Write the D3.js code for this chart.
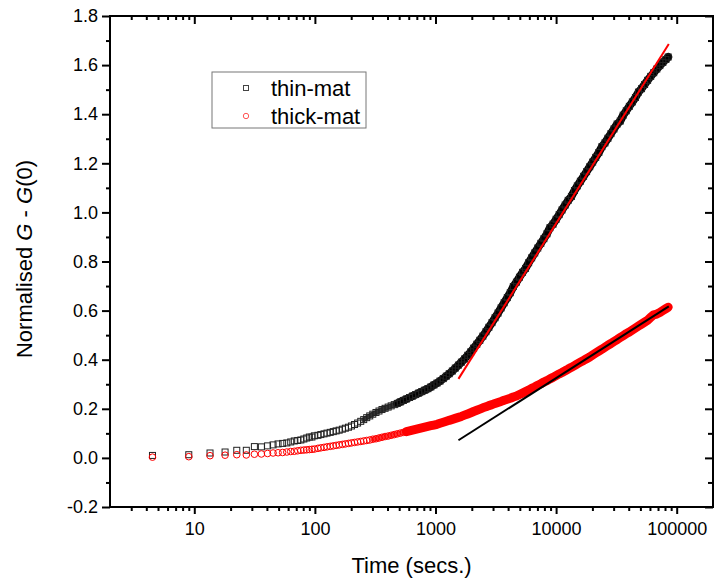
<!DOCTYPE html>
<html>
<head>
<meta charset="utf-8">
<script src="https://cdn.jsdelivr.net/npm/d3@7"></script>
<style>
body { margin: 0; background: #fff; }
svg { font-family: "Liberation Sans", Arial, sans-serif; }
</style>
</head>
<body>
<div id="chart"></div>
<script>
// sample times (secs.), shared by both series
var times = [4.5, 9, 13.5, 18, 22.5, 27, 31.5, 36, 40.5, 45, 49.5, 54, 58.5, 63, 67.5,
  72, 76.5, 81, 85.5, 90, 94.5, 99,
  106, 112, 119, 126, 134, 142, 150, 159, 169, 179, 190, 201, 213, 226, 240, 254, 269, 285,
  302, 321, 340, 360, 382, 405, 429, 455, 482, 511, 542, 574, 609, 645, 684, 725, 769, 815,
  864, 915, 970, 1030, 1090, 1160, 1230, 1300, 1380, 1460, 1550, 1640, 1740, 1850, 1960,
  2070, 2200, 2330, 2470, 2620, 2770, 2940, 3120, 3300, 3500, 3710, 3940, 4170, 4420, 4690,
  4970, 5270, 5580, 5920, 6270, 6650, 7050, 7470, 7920, 8400, 8900, 9430, 10000, 10600,
  11200, 11900, 12600, 13400, 14200, 15000, 15900, 16900, 17900, 19000, 20100, 21300, 22600,
  24000, 25400, 26900, 28500, 30200, 32100, 34000, 36000, 38200, 40500, 42900, 45500, 48200,
  51100, 54200, 57400, 60900, 64500, 68400, 72500, 76800, 81400, 85000];

var thinMat = [0.010, 0.013, 0.020, 0.024, 0.031, 0.031, 0.046, 0.045, 0.049, 0.053, 0.057,
  0.059, 0.061, 0.065, 0.069, 0.071, 0.073, 0.077, 0.081, 0.085, 0.085, 0.090,
  0.092, 0.095, 0.098, 0.101, 0.104, 0.107, 0.110, 0.113, 0.117, 0.121, 0.125, 0.130, 0.136,
  0.142, 0.149, 0.156, 0.164, 0.171, 0.178, 0.185, 0.191, 0.197, 0.202, 0.207, 0.212, 0.217,
  0.222, 0.228, 0.234, 0.240, 0.246, 0.252, 0.258, 0.264, 0.270, 0.276, 0.282, 0.289, 0.297,
  0.305, 0.313, 0.323, 0.333, 0.343, 0.354, 0.366, 0.378, 0.390, 0.403, 0.418, 0.432, 0.447,
  0.463, 0.479, 0.496, 0.514, 0.532, 0.551, 0.571, 0.590, 0.611, 0.632, 0.653, 0.673, 0.698,
  0.716, 0.736, 0.756, 0.772, 0.795, 0.815, 0.835, 0.855, 0.874, 0.893, 0.913, 0.938, 0.952,
  0.972, 0.991, 1.010, 1.030, 1.049, 1.065, 1.089, 1.108, 1.127, 1.147, 1.166, 1.186, 1.205,
  1.224, 1.244, 1.268, 1.283, 1.302, 1.321, 1.340, 1.360, 1.372, 1.396, 1.414, 1.432, 1.450,
  1.468, 1.490, 1.504, 1.521, 1.538, 1.554, 1.569, 1.584, 1.598, 1.611, 1.623, 1.633];

var thickMat = [0.003, 0.005, 0.009, 0.011, 0.013, 0.012, 0.015, 0.016, 0.018, 0.020, 0.021,
  0.022, 0.024, 0.026, 0.027, 0.029, 0.031, 0.032, 0.033, 0.034, 0.035, 0.036,
  0.039, 0.041, 0.043, 0.045, 0.047, 0.049, 0.051, 0.053, 0.055, 0.057, 0.059, 0.061, 0.063,
  0.065, 0.067, 0.069, 0.071, 0.073, 0.076, 0.078, 0.081, 0.084, 0.087, 0.089, 0.092, 0.095,
  0.098, 0.101, 0.104, 0.107, 0.110, 0.113, 0.116, 0.119, 0.122, 0.125, 0.128, 0.131, 0.134,
  0.137, 0.141, 0.145, 0.149, 0.153, 0.157, 0.161, 0.165, 0.169, 0.174, 0.179, 0.184, 0.189,
  0.194, 0.199, 0.204, 0.208, 0.213, 0.217, 0.222, 0.226, 0.230, 0.235, 0.239, 0.243, 0.248,
  0.252, 0.258, 0.264, 0.270, 0.276, 0.283, 0.289, 0.296, 0.302, 0.309, 0.315, 0.322, 0.328,
  0.335, 0.342, 0.348, 0.355, 0.362, 0.369, 0.376, 0.383, 0.390, 0.397, 0.404, 0.411, 0.419,
  0.427, 0.435, 0.443, 0.451, 0.459, 0.466, 0.474, 0.482, 0.490, 0.498, 0.506, 0.513, 0.521,
  0.529, 0.537, 0.545, 0.553, 0.561, 0.573, 0.583, 0.586, 0.592, 0.600, 0.608, 0.614];

// straight fits drawn over each series
var fitTimes = [1550, 86000];
var thinFit = [0.322, 1.686];
var thickFit = [0.072, 0.617];

var xTicks = [10, 100, 1000, 10000, 100000];
var yTicks = [-0.2, 0.0, 0.2, 0.4, 0.6, 0.8, 1.0, 1.2, 1.4, 1.6, 1.8];
var yMinor = [-0.1, 0.1, 0.3, 0.5, 0.7, 0.9, 1.1, 1.3, 1.5, 1.7];
var seriesNames = ["thin-mat", "thick-mat"];

var width = 715, height = 585;
var pLeft = 110, pRight = 713, pTop = 16, pBottom = 507;

var x = d3.scaleLog().domain([2, 200000]).range([pLeft, pRight]);
var y = d3.scaleLinear().domain([-0.2, 1.8]).range([pBottom, pTop]);

var xMinor = [];
[1, 10, 100, 1000, 10000, 100000].forEach(function(d) {
  for (var k = 2; k <= 9; k++) {
    var v = d * k;
    if (v > 2 && v < 200000) xMinor.push(v);
  }
});

var svg = d3.select("#chart").append("svg")
    .attr("width", width)
    .attr("height", height);

var thin = times.map(function(t, i) { return {t: t, v: thinMat[i]}; });
var thick = times.map(function(t, i) { return {t: t, v: thickMat[i]}; });

var plot = svg.append("g");

// the dense part of each series is a band of overlapping markers:
// draw it as a thick line under the markers
var band = d3.line()
    .x(function(d) { return x(d.t); })
    .y(function(d) { return y(d.v); });

function drawBand(data, from, colour, w) {
  plot.append("path")
      .datum(data.filter(function(d) { return d.t >= from; }))
      .attr("d", band)
      .style("fill", "none")
      .style("stroke", colour)
      .style("stroke-width", w)
      .style("stroke-linejoin", "round")
      .style("stroke-linecap", "round");
}

drawBand(thin, 250, "#333", 5);
drawBand(thin, 480, "#000", 8);

plot.selectAll(".sq").data(thin).enter()
    .append("rect")
    .attr("class", "sq")
    .attr("x", function(d) { return x(d.t) - 3; })
    .attr("y", function(d) { return y(d.v) - 3; })
    .attr("width", 6).attr("height", 6)
    .style("fill", "none")
    .style("stroke", "#222")
    .style("stroke-width", 1);

drawBand(thick, 300, "#f33", 5);
drawBand(thick, 560, "#f00", 9);

plot.selectAll(".ci").data(thick).enter()
    .append("circle")
    .attr("class", "ci")
    .attr("cx", function(d) { return x(d.t); })
    .attr("cy", function(d) { return y(d.v); })
    .attr("r", 3.3)
    .style("fill", "none")
    .style("stroke", "#f00")
    .style("stroke-width", 1);

// fit lines
plot.append("line")
    .attr("x1", x(fitTimes[0])).attr("y1", y(thinFit[0]))
    .attr("x2", x(fitTimes[1])).attr("y2", y(thinFit[1]))
    .style("stroke", "#f00")
    .style("stroke-width", 2);

plot.append("line")
    .attr("x1", x(fitTimes[0])).attr("y1", y(thickFit[0]))
    .attr("x2", x(fitTimes[1])).attr("y2", y(thickFit[1]))
    .style("stroke", "#000")
    .style("stroke-width", 2);

// axes
function styleAxis(g) {
  g.select(".domain").remove();
  g.selectAll("line").style("stroke", "#000").style("stroke-width", 2);
  g.selectAll("text")
    .style("font-family", "'Liberation Sans', Arial, sans-serif")
    .style("font-size", "18px")
    .style("fill", "#000");
}

svg.append("g")
    .attr("transform", "translate(0," + pBottom + ")")
    .call(d3.axisBottom(x).tickValues(xTicks).tickSize(7).tickPadding(8)
      .tickFormat(function(d) { return String(d); }))
    .call(styleAxis);
svg.append("g")
    .attr("transform", "translate(0," + pBottom + ")")
    .call(d3.axisBottom(x).tickValues(xMinor).tickSize(4).tickFormat(""))
    .call(styleAxis);

svg.append("g")
    .attr("transform", "translate(" + pLeft + ",0)")
    .call(d3.axisLeft(y).tickValues(yTicks).tickSize(8).tickPadding(4)
      .tickFormat(function(d) { return d.toFixed(1); }))
    .call(styleAxis);
svg.append("g")
    .attr("transform", "translate(" + pLeft + ",0)")
    .call(d3.axisLeft(y).tickValues(yMinor).tickSize(4).tickFormat(""))
    .call(styleAxis);

svg.append("g")
    .attr("transform", "translate(0," + pTop + ")")
    .call(d3.axisTop(x).tickValues(xTicks).tickSize(-8).tickFormat(""))
    .call(styleAxis);
svg.append("g")
    .attr("transform", "translate(0," + pTop + ")")
    .call(d3.axisTop(x).tickValues(xMinor).tickSize(-4).tickFormat(""))
    .call(styleAxis);

svg.append("g")
    .attr("transform", "translate(" + pRight + ",0)")
    .call(d3.axisRight(y).tickValues(yTicks).tickSize(-8).tickFormat(""))
    .call(styleAxis);
svg.append("g")
    .attr("transform", "translate(" + pRight + ",0)")
    .call(d3.axisRight(y).tickValues(yMinor).tickSize(-5).tickFormat(""))
    .call(styleAxis);

svg.append("rect")
    .attr("x", pLeft).attr("y", pTop)
    .attr("width", pRight - pLeft).attr("height", pBottom - pTop)
    .style("fill", "none")
    .style("stroke", "#000")
    .style("stroke-width", 2);

// axis titles
svg.append("text")
    .attr("x", (pLeft + pRight) / 2).attr("y", 573)
    .attr("text-anchor", "middle")
    .style("font-size", "22px")
    .text("Time (secs.)");

var yTitle = svg.append("text")
    .attr("transform", "translate(32," + 259 + ") rotate(-90)")
    .attr("text-anchor", "middle")
    .style("font-size", "22px");
yTitle.append("tspan").text("Normalised ");
yTitle.append("tspan").style("font-style", "italic").text("G");
yTitle.append("tspan").text(" - ");
yTitle.append("tspan").style("font-style", "italic").text("G");
yTitle.append("tspan").text("(0)");

// legend
var legend = svg.append("g");
legend.append("rect")
    .attr("x", 212).attr("y", 72)
    .attr("width", 154).attr("height", 56)
    .style("fill", "#fff")
    .style("stroke", "#777")
    .style("stroke-width", 1);

legend.append("rect")
    .attr("x", 243.5).attr("y", 85.5)
    .attr("width", 5).attr("height", 5)
    .style("fill", "none")
    .style("stroke", "#444");
legend.append("circle")
    .attr("cx", 246).attr("cy", 116)
    .attr("r", 2.7)
    .style("fill", "none")
    .style("stroke", "#f55");

legend.selectAll(".lt").data(seriesNames).enter()
    .append("text")
    .attr("class", "lt")
    .attr("x", 271)
    .attr("y", function(d, i) { return 96 + i * 28; })
    .style("font-size", "22px")
    .text(function(d) { return d; });
</script>
</body>
</html>
